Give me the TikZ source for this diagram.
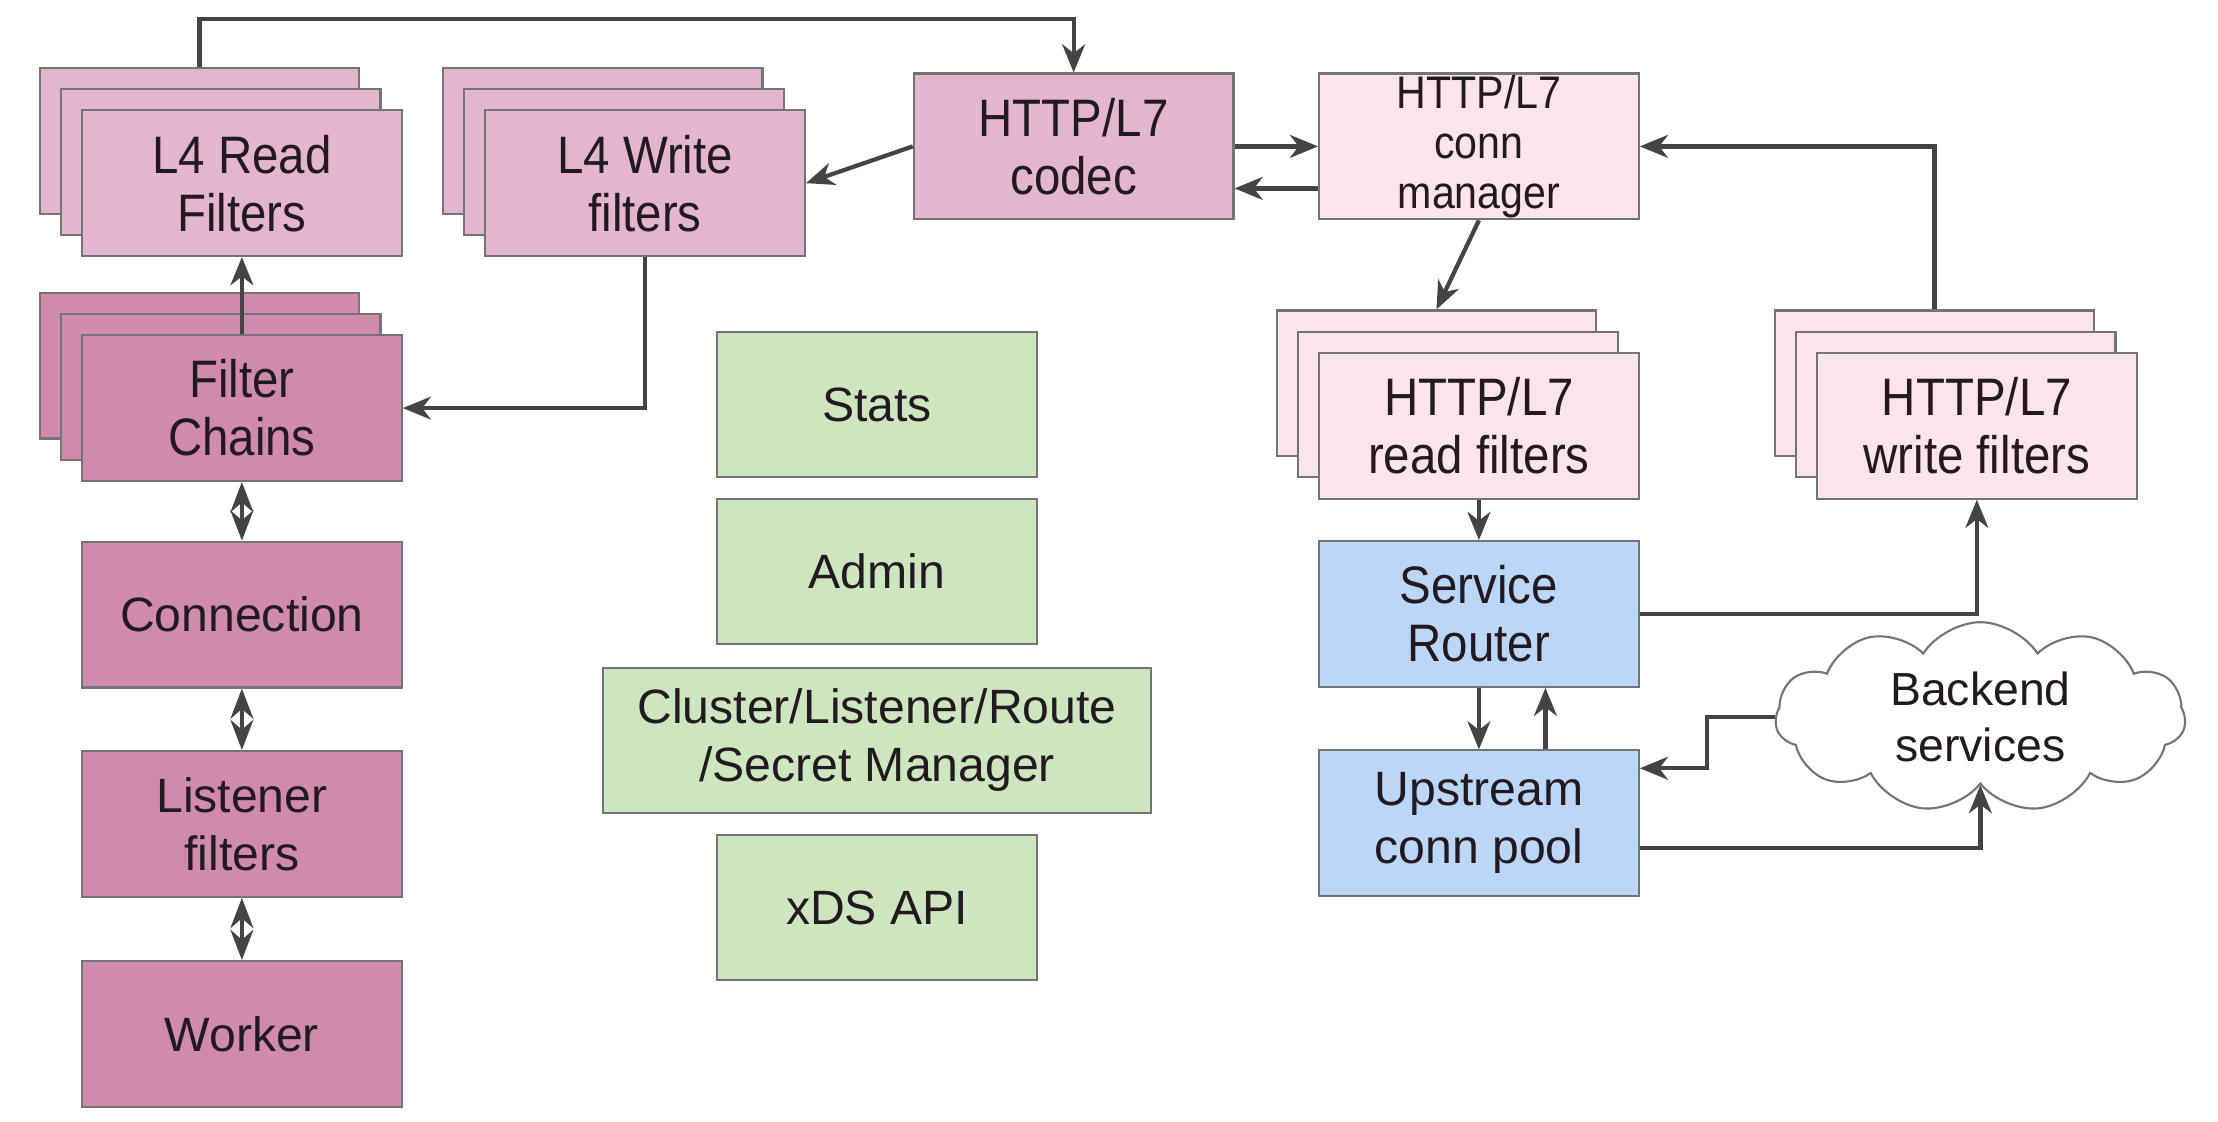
\documentclass[tikz,border=0pt]{standalone}
\usepackage{fontspec}
\setmainfont{Liberation Sans}
\newfontfamily\narrowfont[FakeStretch=0.9]{Liberation Sans}
\usetikzlibrary{arrows.meta,shapes.symbols}
\definecolor{deeppink}{HTML}{CF8AAE}
\definecolor{midpink}{HTML}{E4B5CE}
\definecolor{palepink}{HTML}{FBE4EC}
\definecolor{mintgreen}{HTML}{CDE6C0}
\definecolor{skyblue}{HTML}{BCD6F7}
\definecolor{wiregray}{HTML}{444444}
\definecolor{boxline}{HTML}{747474}
\definecolor{textdark}{HTML}{231A21}
\begin{document}
\begin{tikzpicture}[x=0.014145cm, y=-0.014145cm,
  box/.style={draw=boxline, line width=0.6pt, minimum width=3.197cm, minimum height=1.457cm, inner sep=0pt, align=center, text=textdark, font=\fontsize{13.7}{16.5}\selectfont},
  narrowbox/.style={box, font=\narrowfont\fontsize{15}{16.5}\selectfont},
  wire/.style={draw=wiregray, line width=1.2pt, -{Stealth[length=8pt,width=6.5pt,inset=2.5pt]}},
  pairlink/.style={draw=wiregray, line width=1.2pt, {Stealth[length=8.6pt,width=6.5pt]}-{Stealth[length=8.6pt,width=6.5pt]}}]
\path[fill=white] (0,0) rectangle (1568,793);
\useasboundingbox (0,0) rectangle (1568,793);
% listener side
\node[narrowbox, fill=midpink] (l4readC) at (141,99.5) {};
\node[narrowbox, fill=midpink] (l4readB) at (156,114.5) {};
\node[narrowbox, fill=midpink] (l4read) at (171,129.5) {L4 Read\\Filters};
\node[narrowbox, fill=deeppink] (chainsC) at (141,258.5) {};
\node[narrowbox, fill=deeppink] (chainsB) at (156,273.5) {};
\node[narrowbox, fill=deeppink] (chains) at (171,288.5) {Filter\\Chains};
\node[box, fill=deeppink] (conn) at (171,434.5) {Connection};
\node[box, fill=deeppink] (lfilters) at (171,582.5) {Listener\\filters};
\node[box, fill=deeppink] (worker) at (171,731) {Worker};
\node[narrowbox, fill=midpink] (l4writeC) at (426,99.5) {};
\node[narrowbox, fill=midpink] (l4writeB) at (441,114.5) {};
\node[narrowbox, fill=midpink] (l4write) at (456,129.5) {L4 Write\\filters};
\node[narrowbox, fill=midpink] (codec) at (759,103.5) {HTTP/L7\\codec};
% main thread
\node[box, fill=mintgreen] (stats) at (620,286) {Stats};
\node[box, fill=mintgreen] (admin) at (620,404) {Admin};
\node[box, fill=mintgreen, minimum width=5.474cm] (cds) at (620,523.5) {Cluster/Listener/Route\\/Secret Manager};
\node[box, fill=mintgreen] (xds) at (620,641.5) {xDS API};
% http side
\node[narrowbox, fill=palepink, font=\narrowfont\fontsize{13}{14.2}\selectfont] (hcm) at (1045.5,103.5) {HTTP/L7\\conn\\manager};
\node[narrowbox, fill=palepink] (readfC) at (1015.5,271) {};
\node[narrowbox, fill=palepink] (readfB) at (1030.5,286) {};
\node[narrowbox, fill=palepink] (readf) at (1045.5,301) {HTTP/L7\\read filters};
\node[narrowbox, fill=palepink] (writefC) at (1367.5,271) {};
\node[narrowbox, fill=palepink] (writefB) at (1382.5,286) {};
\node[narrowbox, fill=palepink] (writef) at (1397.5,301) {HTTP/L7\\write filters};
\node[narrowbox, fill=skyblue] (router) at (1045.5,434) {Service\\Router};
\node[box, fill=skyblue] (pool) at (1045.5,582) {Upstream\\conn pool};
\node[cloud, cloud puffs=11, cloud puff arc=115, aspect=2.0, draw=boxline, line width=0.6pt, fill=white, minimum width=4.1cm, minimum height=1.9cm, inner sep=0pt, align=center, text=textdark, font=\fontsize{13.2}{16}\selectfont] (backend) at (1400,507) {Backend\\services};
\draw[wire] (l4readC.north) -- ++(0,-34) -| (codec.north);
\draw[wire] (chains.north) -- (l4read.south);
\draw[wire] (l4write.south) |- (chains.east);
\draw[wire] (codec.west) -- (l4write.east);
\draw[wire] (codec.east) -- (hcm.west);
\draw[wire] ([yshift=-0.42cm]hcm.west) -- ([yshift=-0.42cm]codec.east);
\draw[wire] (hcm.south) -- (readfC.north);
\draw[wire] (writefC.north) |- (hcm.east);
\draw[wire] (readf.south) -- (router.north);
\draw[wire] (router.east) -| (writef.south);
\draw[wire] (router.south) -- (pool.north);
\draw[wire] ([xshift=0.665cm]pool.north) -- ([xshift=0.665cm]router.south);
\draw[wire] (backend.west) -- ++(-48,0) |- ([yshift=0.55cm]pool.east);
\draw[wire] ([yshift=-0.25cm]pool.east) -| (backend.south);
\draw[pairlink] (chains.south) -- (conn.north);
\draw[pairlink] (conn.south) -- (lfilters.north);
\draw[pairlink] (lfilters.south) -- (worker.north);
\end{tikzpicture}
\end{document}
